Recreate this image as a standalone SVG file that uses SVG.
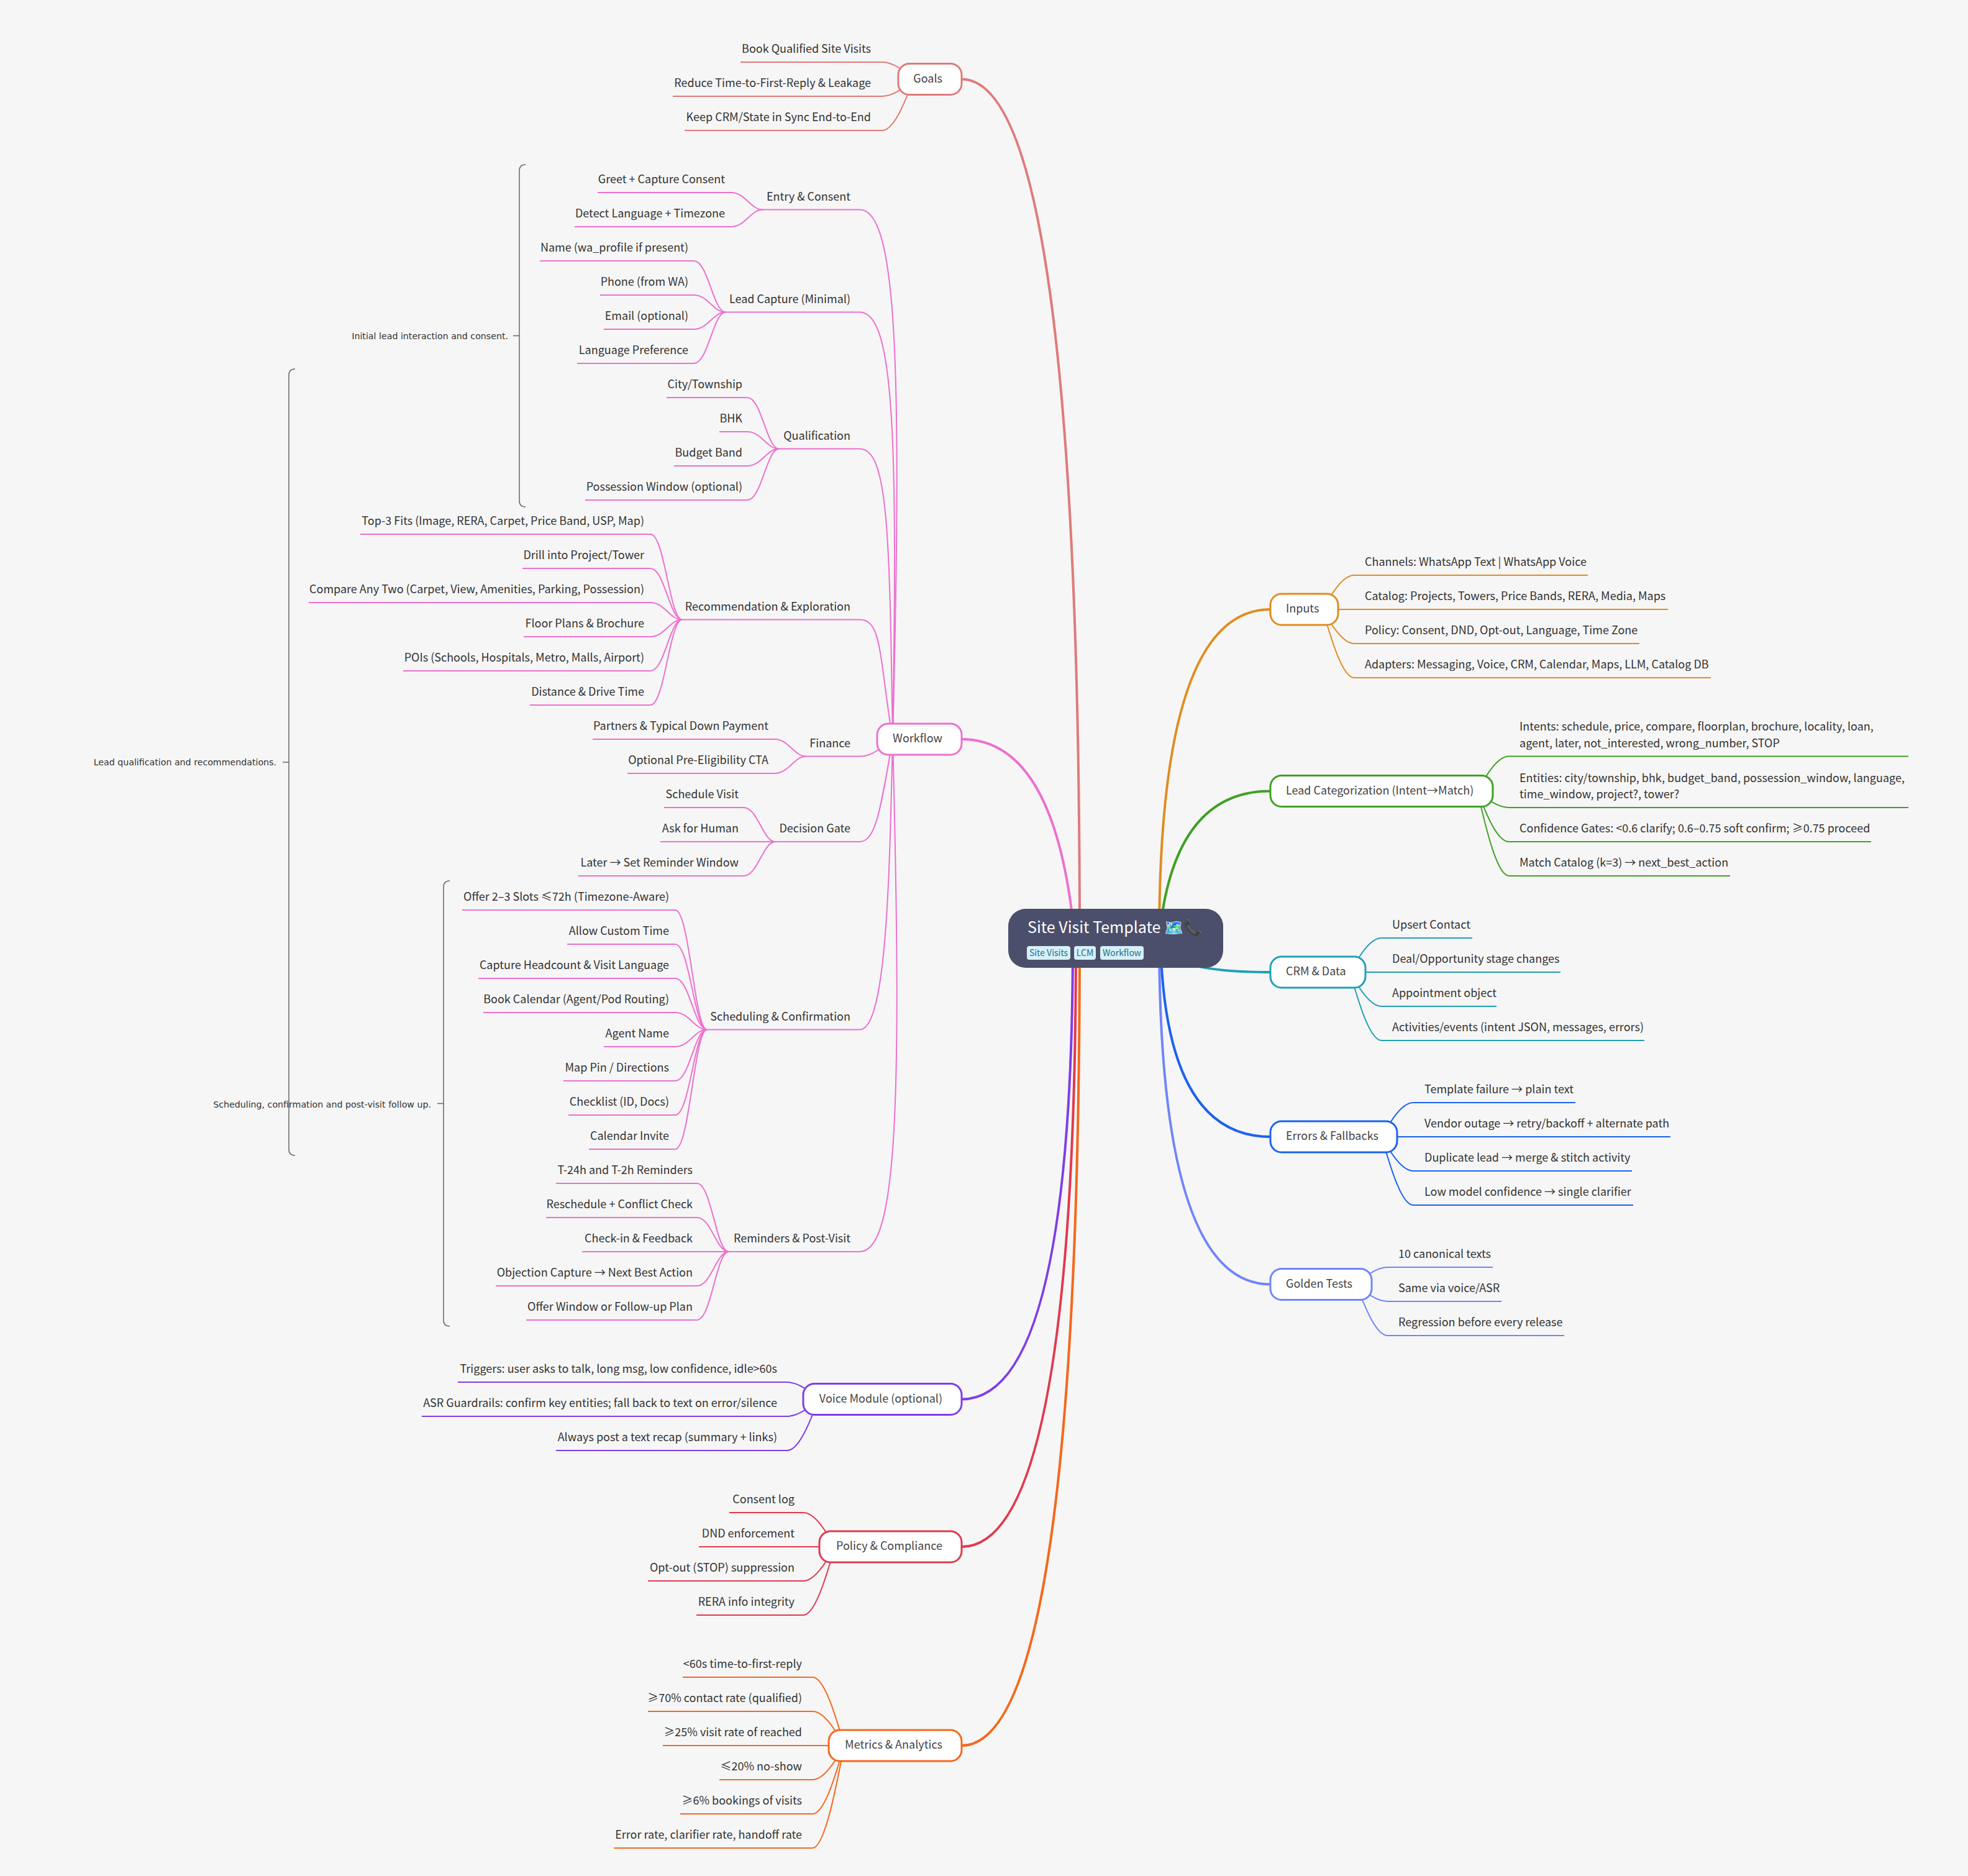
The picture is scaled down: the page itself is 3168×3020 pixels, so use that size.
<svg xmlns="http://www.w3.org/2000/svg" width="3168" height="3020" viewBox="0 0 3168 3020">
<style>
text{font-family:"Noto Sans CJK SC","Noto Sans",sans-serif;font-size:18px;fill:#333}
.e{text-anchor:end}
.b{fill:#fff;stroke-width:3}
.bt{fill:#444}
.bl{text-anchor:end;fill:#444}
.sum{font-family:"DejaVu Sans",sans-serif;font-size:14.2px;text-anchor:end}
.br{fill:none;stroke:#666;stroke-width:1.5}
.tag{fill:#d6f0f8}
.tt{font-size:14px;fill:#276f86;text-anchor:middle}
#connectors path{fill:none;stroke-width:2}
#connectors .m{stroke-width:4}
.goals{stroke:#e07a7a}.work{stroke:#ec70cf}.inp{stroke:#e08d1f}.lead{stroke:#3ea123}.crm{stroke:#20a0b6}.err{stroke:#1a62f0}.gold{stroke:#7085fa}.voice{stroke:#7f3de8}.pol{stroke:#e0394f}.met{stroke:#f5681c}
</style>
<rect width="3168" height="3020" fill="#f6f6f6"/>
<g id="connectors">
<g class="goals"><path class="m" d="M1548 127.5Q1738 127.5 1738 1510"/>
<path d="M1471 127.5c-10 -8.25 -30 -27.5 -51 -27.5H1192"/><path d="M1471 127.5c-10 8.25 -30 27.5 -51 27.5H1083"/><path d="M1471 127.5c-10 24.75 -30 82.5 -51 82.5H1102"/></g>
<g class="work"><path class="m" d="M1548 1190Q1700 1190 1730 1510"/>
<path d="M1384 337.5C1445 337.5 1452 600 1437 1190"/><path d="M1384 502.5C1440 502.5 1445 709 1437 1190"/><path d="M1384 722.5C1430 722.5 1432 863 1437 1190"/><path d="M1384 997.5C1420 997.5 1415 1056 1437 1190"/><path d="M1384 1217.5C1405 1217.5 1415 1205 1437 1190"/><path d="M1384 1355C1410 1355 1418 1300 1437 1190"/><path d="M1384 1657.5C1428 1657.5 1432 1400 1437 1190"/><path d="M1384 2015C1445 2015 1452 1768 1437 1190"/>
<path d="M1384 337.5H1228"/><path d="M1384 502.5H1168"/><path d="M1384 722.5H1254"/><path d="M1384 997.5H1098"/><path d="M1384 1217.5H1298"/><path d="M1384 1355H1248"/><path d="M1384 1657.5H1138"/><path d="M1384 2015H1173"/>
<path d="M1228 337.5c-20 0 -28 -27.5 -51 -27.5H962"/><path d="M1228 337.5c-20 0 -28 27.5 -51 27.5H925"/>
<path d="M1168 502.5c-20 0 -28 -82.5 -51 -82.5H869"/><path d="M1168 502.5c-20 0 -28 -27.5 -51 -27.5H966"/><path d="M1168 502.5c-20 0 -28 27.5 -51 27.5H972"/><path d="M1168 502.5c-20 0 -28 82.5 -51 82.5H929"/>
<path d="M1254 722.5c-20 0 -28 -82.5 -51 -82.5H1073"/><path d="M1254 722.5c-20 0 -28 -27.5 -51 -27.5H1158"/><path d="M1254 722.5c-20 0 -28 27.5 -51 27.5H1085"/><path d="M1254 722.5c-20 0 -28 82.5 -51 82.5H942"/>
<path d="M1098 997.5c-20 0 -28 -137.5 -51 -137.5H580"/><path d="M1098 997.5c-20 0 -28 -82.5 -51 -82.5H841"/><path d="M1098 997.5c-20 0 -28 -27.5 -51 -27.5H497"/><path d="M1098 997.5c-20 0 -28 27.5 -51 27.5H843"/><path d="M1098 997.5c-20 0 -28 82.5 -51 82.5H649"/><path d="M1098 997.5c-20 0 -28 137.5 -51 137.5H853"/>
<path d="M1298 1217.5c-20 0 -28 -27.5 -51 -27.5H954"/><path d="M1298 1217.5c-20 0 -28 27.5 -51 27.5H1010"/>
<path d="M1248 1355c-20 0 -28 -55 -51 -55H1069"/><path d="M1248 1355H1063"/><path d="M1248 1355c-20 0 -28 55 -51 55H931"/>
<path d="M1138 1657.5c-20 0 -28 -192.5 -51 -192.5H744"/><path d="M1138 1657.5c-20 0 -28 -137.5 -51 -137.5H913"/><path d="M1138 1657.5c-20 0 -28 -82.5 -51 -82.5H770"/><path d="M1138 1657.5c-20 0 -28 -27.5 -51 -27.5H778"/><path d="M1138 1657.5c-20 0 -28 27.5 -51 27.5H972"/><path d="M1138 1657.5c-20 0 -28 82.5 -51 82.5H907"/><path d="M1138 1657.5c-20 0 -28 137.5 -51 137.5H915"/><path d="M1138 1657.5c-20 0 -28 192.5 -51 192.5H948"/>
<path d="M1173 2015c-20 0 -28 -110 -51 -110H895"/><path d="M1173 2015c-20 0 -28 -55 -51 -55H879"/><path d="M1173 2015H937"/><path d="M1173 2015c-20 0 -28 55 -51 55H798"/><path d="M1173 2015c-20 0 -28 110 -51 110H847"/></g>
<g class="voice"><path class="m" d="M1548 2252.5Q1727 2252.5 1727 1510"/>
<path d="M1318 2252.5c-10 -8.25 -30 -27.5 -51 -27.5H737"/><path d="M1318 2252.5c-10 8.25 -30 27.5 -51 27.5H679"/><path d="M1318 2252.5c-10 24.75 -30 82.5 -51 82.5H895"/></g>
<g class="pol"><path class="m" d="M1548 2490Q1732 2490 1732 1510"/>
<path d="M1344 2490c-10 -16.5 -30 -55 -51 -55H1174"/><path d="M1344 2490H1125"/><path d="M1344 2490c-10 16.5 -30 55 -51 55H1043"/><path d="M1344 2490c-10 33 -30 110 -51 110H1121"/></g>
<g class="met"><path class="m" d="M1548 2810Q1738 2810 1738 1510"/>
<path d="M1359 2810c-10 -33 -30 -110 -51 -110H1099"/><path d="M1359 2810c-10 -16.5 -30 -55 -51 -55H1043"/><path d="M1359 2810H1067"/><path d="M1359 2810c-10 16.5 -30 55 -51 55H1158"/><path d="M1359 2810c-10 33 -30 110 -51 110H1095"/><path d="M1359 2810c-10 49.5 -30 165 -51 165H988"/></g>
<g class="inp"><path class="m" d="M2045 981Q1866 981 1866 1510"/>
<path d="M2129 981c10 -16.5 30 -55 51 -55H2556"/><path d="M2129 981H2685"/><path d="M2129 981c10 16.5 30 55 51 55H2639"/><path d="M2129 981c10 33 30 110 51 110H2754"/></g>
<g class="lead"><path class="m" d="M2045 1273.5Q1888 1273.5 1866 1510"/>
<path d="M2378 1273.5c10 -16.8 30 -56 51 -56H3072"/><path d="M2378 1273.5c10 8 30 26.5 51 26.5H3072"/><path d="M2378 1273.5c10 24.5 30 81.5 51 81.5H3012"/><path d="M2378 1273.5c10 41 30 136.5 51 136.5H2785"/></g>
<g class="crm"><path class="m" d="M2045 1565Q1866 1565 1866 1510"/>
<path d="M2173 1565c10 -16.5 30 -55 51 -55H2370"/><path d="M2173 1565H2512"/><path d="M2173 1565c10 16.5 30 55 51 55H2409"/><path d="M2173 1565c10 33 30 110 51 110H2647"/></g>
<g class="err"><path class="m" d="M2045 1830Q1874 1830 1868 1510"/>
<path d="M2224 1830c10 -16.5 30 -55 51 -55H2536"/><path d="M2224 1830H2689"/><path d="M2224 1830c10 16.5 30 55 51 55H2627"/><path d="M2224 1830c10 33 30 110 51 110H2629"/></g>
<g class="gold"><path class="m" d="M2045 2067.5Q1866 2067.5 1866 1510"/>
<path d="M2183 2067.5c10 -8.25 30 -27.5 51 -27.5H2403"/><path d="M2183 2067.5c10 8.25 30 27.5 51 27.5H2417"/><path d="M2183 2067.5c10 24.75 30 82.5 51 82.5H2518"/></g>
</g>
<g id="root"><rect x="1623" y="1463" width="346" height="95" rx="28" fill="#4c4f6b"/>
<text x="1654" y="1502" style="font-size:25px;fill:#fff">Site Visit Template 🗺️📞</text>
<rect class="tag" x="1653" y="1523" width="70" height="22" rx="4"/><text class="tt" x="1688" y="1539">Site Visits</text>
<rect class="tag" x="1729" y="1523" width="35" height="22" rx="4"/><text class="tt" x="1746.5" y="1539">LCM</text>
<rect class="tag" x="1771" y="1523" width="70" height="22" rx="4"/><text class="tt" x="1806" y="1539">Workflow</text></g>
<g id="n-goals"><rect class="b goals" x="1446" y="102.5" width="102" height="50" rx="18"/><text class="bl" x="1517" y="132.5">Goals</text></g>
<g id="n-workflow"><rect class="b work" x="1412" y="1165" width="136" height="50" rx="18"/><text class="bl" x="1517" y="1195">Workflow</text></g>
<g id="n-voice"><rect class="b voice" x="1293" y="2227.5" width="255" height="50" rx="18"/><text class="bl" x="1517" y="2257.5">Voice Module (optional)</text></g>
<g id="n-policy"><rect class="b pol" x="1319" y="2465" width="229" height="50" rx="18"/><text class="bl" x="1517" y="2495">Policy &amp; Compliance</text></g>
<g id="n-metrics"><rect class="b met" x="1334" y="2785" width="214" height="50" rx="18"/><text class="bl" x="1517" y="2815">Metrics &amp; Analytics</text></g>
<g id="n-inputs"><rect class="b inp" x="2045" y="956" width="109" height="50" rx="18"/><text class="bt" x="2070" y="986">Inputs</text></g>
<g id="n-lead"><rect class="b lead" x="2045" y="1248.5" width="358" height="50" rx="18"/><text class="bt" x="2070" y="1278.5">Lead Categorization (Intent→Match)</text></g>
<g id="n-crm"><rect class="b crm" x="2045" y="1540" width="153" height="50" rx="18"/><text class="bt" x="2070" y="1570">CRM &amp; Data</text></g>
<g id="n-errors"><rect class="b err" x="2045" y="1805" width="204" height="50" rx="18"/><text class="bt" x="2070" y="1835">Errors &amp; Fallbacks</text></g>
<g id="n-golden"><rect class="b gold" x="2045" y="2042.5" width="163" height="50" rx="18"/><text class="bt" x="2070" y="2072.5">Golden Tests</text></g>
<g id="leaves-goals"><g id="g1"><text class="e" x="1402" y="85">Book Qualified Site Visits</text></g><g id="g2"><text class="e" x="1402" y="140">Reduce Time-to-First-Reply &amp; Leakage</text></g><g id="g3"><text class="e" x="1402" y="195">Keep CRM/State in Sync End-to-End</text></g></g>
<g id="sub-entry"><text class="e" x="1369" y="322.5">Entry &amp; Consent</text><text class="e" x="1167" y="295">Greet + Capture Consent</text><text class="e" x="1167" y="350">Detect Language + Timezone</text></g>
<g id="sub-capture"><text class="e" x="1369" y="487.5">Lead Capture (Minimal)</text><text class="e" x="1108" y="405">Name (wa_profile if present)</text><text class="e" x="1108" y="460">Phone (from WA)</text><text class="e" x="1108" y="515">Email (optional)</text><text class="e" x="1108" y="570">Language Preference</text></g>
<g id="sub-qual"><text class="e" x="1369" y="707.5">Qualification</text><text class="e" x="1195" y="625">City/Township</text><text class="e" x="1195" y="680">BHK</text><text class="e" x="1195" y="735">Budget Band</text><text class="e" x="1195" y="790">Possession Window (optional)</text></g>
<g id="sub-rec"><text class="e" x="1369" y="982.5">Recommendation &amp; Exploration</text><text class="e" x="1037" y="845">Top-3 Fits (Image, RERA, Carpet, Price Band, USP, Map)</text><text class="e" x="1037" y="900">Drill into Project/Tower</text><text class="e" x="1037" y="955">Compare Any Two (Carpet, View, Amenities, Parking, Possession)</text><text class="e" x="1037" y="1010">Floor Plans &amp; Brochure</text><text class="e" x="1037" y="1065">POIs (Schools, Hospitals, Metro, Malls, Airport)</text><text class="e" x="1037" y="1120">Distance &amp; Drive Time</text></g>
<g id="sub-fin"><text class="e" x="1369" y="1202.5">Finance</text><text class="e" x="1237" y="1175">Partners &amp; Typical Down Payment</text><text class="e" x="1237" y="1230">Optional Pre-Eligibility CTA</text></g>
<g id="sub-dec"><text class="e" x="1369" y="1340">Decision Gate</text><text class="e" x="1189" y="1285">Schedule Visit</text><text class="e" x="1189" y="1340">Ask for Human</text><text class="e" x="1189" y="1395">Later → Set Reminder Window</text></g>
<g id="sub-sched"><text class="e" x="1369" y="1642.5">Scheduling &amp; Confirmation</text><text class="e" x="1077" y="1450">Offer 2–3 Slots ≤72h (Timezone-Aware)</text><text class="e" x="1077" y="1505">Allow Custom Time</text><text class="e" x="1077" y="1560">Capture Headcount &amp; Visit Language</text><text class="e" x="1077" y="1615">Book Calendar (Agent/Pod Routing)</text><text class="e" x="1077" y="1670">Agent Name</text><text class="e" x="1077" y="1725">Map Pin / Directions</text><text class="e" x="1077" y="1780">Checklist (ID, Docs)</text><text class="e" x="1077" y="1835">Calendar Invite</text></g>
<g id="sub-rem"><text class="e" x="1369" y="2000">Reminders &amp; Post-Visit</text><text class="e" x="1115" y="1890">T-24h and T-2h Reminders</text><text class="e" x="1115" y="1945">Reschedule + Conflict Check</text><text class="e" x="1115" y="2000">Check-in &amp; Feedback</text><text class="e" x="1115" y="2055">Objection Capture → Next Best Action</text><text class="e" x="1115" y="2110">Offer Window or Follow-up Plan</text></g>
<g id="leaves-voice"><text class="e" x="1251" y="2210">Triggers: user asks to talk, long msg, low confidence, idle&gt;60s</text><text class="e" x="1251" y="2265">ASR Guardrails: confirm key entities; fall back to text on error/silence</text><text class="e" x="1251" y="2320">Always post a text recap (summary + links)</text></g>
<g id="leaves-policy"><text class="e" x="1279" y="2420">Consent log</text><text class="e" x="1279" y="2475">DND enforcement</text><text class="e" x="1279" y="2530">Opt-out (STOP) suppression</text><text class="e" x="1279" y="2585">RERA info integrity</text></g>
<g id="leaves-metrics"><text class="e" x="1291" y="2685">&lt;60s time-to-first-reply</text><text class="e" x="1291" y="2740">≥70% contact rate (qualified)</text><text class="e" x="1291" y="2795">≥25% visit rate of reached</text><text class="e" x="1291" y="2850">≤20% no-show</text><text class="e" x="1291" y="2905">≥6% bookings of visits</text><text class="e" x="1291" y="2960">Error rate, clarifier rate, handoff rate</text></g>
<g id="leaves-inputs"><text x="2197" y="911">Channels: WhatsApp Text | WhatsApp Voice</text><text x="2197" y="966">Catalog: Projects, Towers, Price Bands, RERA, Media, Maps</text><text x="2197" y="1021">Policy: Consent, DND, Opt-out, Language, Time Zone</text><text x="2197" y="1076">Adapters: Messaging, Voice, CRM, Calendar, Maps, LLM, Catalog DB</text></g>
<g id="leaves-lead"><text x="2446" y="1176">Intents: schedule, price, compare, floorplan, brochure, locality, loan,</text><text x="2446" y="1202.5">agent, later, not_interested, wrong_number, STOP</text><text x="2446" y="1258.5">Entities: city/township, bhk, budget_band, possession_window, language,</text><text x="2446" y="1285">time_window, project?, tower?</text><text x="2446" y="1340">Confidence Gates: &lt;0.6 clarify; 0.6–0.75 soft confirm; ≥0.75 proceed</text><text x="2446" y="1395">Match Catalog (k=3) → next_best_action</text></g>
<g id="leaves-crm"><text x="2241" y="1495">Upsert Contact</text><text x="2241" y="1550">Deal/Opportunity stage changes</text><text x="2241" y="1605">Appointment object</text><text x="2241" y="1660">Activities/events (intent JSON, messages, errors)</text></g>
<g id="leaves-errors"><text x="2293" y="1760">Template failure → plain text</text><text x="2293" y="1815">Vendor outage → retry/backoff + alternate path</text><text x="2293" y="1870">Duplicate lead → merge &amp; stitch activity</text><text x="2293" y="1925">Low model confidence → single clarifier</text></g>
<g id="leaves-golden"><text x="2251" y="2025">10 canonical texts</text><text x="2251" y="2080">Same via voice/ASR</text><text x="2251" y="2135">Regression before every release</text></g>
<g id="summaries">
<path class="br" d="M846 265Q836 265 836 275V806Q836 816 846 816M836 540.5H826"/><text class="sum" x="818" y="546">Initial lead interaction and consent.</text>
<path class="br" d="M475 594Q465 594 465 604V1850Q465 1860 475 1860M465 1227H455"/><text class="sum" x="445" y="1232">Lead qualification and recommendations.</text>
<path class="br" d="M724 1418Q714 1418 714 1428V2125Q714 2135 724 2135M714 1776.5H704"/><text class="sum" x="694" y="1783">Scheduling, confirmation and post-visit follow up.</text>
</g>
</svg>
